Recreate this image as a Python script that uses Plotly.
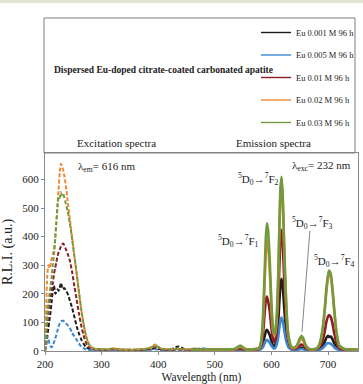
import plotly.graph_objects as go

# ---------------- data ----------------
series_names = ["Eu 0.001 M 96 h", "Eu 0.005 M 96 h", "Eu 0.01 M 96 h",
                "Eu 0.02 M 96 h", "Eu 0.03 M 96 h"]
series_colors = ["#1e1e1e", "#3d87cc", "#8c1d26", "#f08a32", "#72993d"]

# Excitation spectra (lambda_em = 616 nm)
exc_wl = [200, 202, 204, 206, 208, 210, 212, 214, 216, 218,
          220, 222, 224, 226, 228, 230, 232, 234, 236, 238,
          240, 244, 248, 252, 256, 260, 264, 268, 272, 276,
          280, 285, 290, 300, 310, 320, 330, 345, 360, 375,
          385, 395, 405, 420, 435, 450, 465, 480, 500, 520,
          540, 560, 575]
exc_0001 = [0, 20, 50, 80, 110, 140, 175, 215, 228, 200,
            205, 215, 210, 220, 238, 225, 215, 220, 215, 208,
            200, 175, 150, 118, 85, 60, 40, 25, 14, 8,
            5, 4, 3, 3, 2, 4, 3, 2, 2, 3,
            5, 8, 4, 3, 15, 3, 4, 3, 2, 3,
            3, 2, 3]
exc_0005 = [0, 30, 50, 40, 25, 15, 12, 20, 30, 42,
            55, 70, 85, 95, 102, 105, 105, 102, 98, 94,
            90, 80, 62, 50, 38, 25, 15, 9, 5, 3,
            2, 1, 1, 1, 1, 3, 2, 1, 1, 2,
            3, 5, 2, 2, 3, 2, 6, 8, 2, 2,
            2, 2, 2]
exc_001 = [0, 50, 100, 140, 170, 190, 210, 240, 270, 290,
           310, 330, 345, 355, 365, 372, 376, 370, 360, 350,
           340, 315, 275, 225, 178, 130, 88, 55, 30, 16,
           9, 6, 5, 4, 3, 6, 4, 3, 3, 4,
           7, 12, 5, 3, 5, 3, 5, 3, 3, 3,
           4, 3, 4]
exc_002 = [0, 150, 265, 300, 290, 305, 325, 340, 355, 395,
           445, 505, 565, 625, 655, 648, 635, 615, 590, 560,
           525, 460, 395, 330, 270, 205, 145, 95, 55, 30,
           15, 8, 6, 5, 4, 9, 5, 3, 4, 6,
           10, 22, 8, 5, 7, 4, 8, 4, 5, 4,
           6, 5, 6]
exc_003 = [0, 60, 120, 165, 200, 230, 265, 305, 340, 390,
           450, 505, 540, 535, 555, 545, 550, 538, 522, 505,
           490, 445, 390, 330, 270, 205, 145, 95, 55, 30,
           16, 9, 7, 6, 5, 8, 5, 4, 4, 6,
           9, 18, 7, 5, 6, 4, 7, 4, 5, 4,
           5, 5, 5]

# Emission spectra (lambda_exc = 232 nm)
emi_wl = [460, 480, 500, 520, 535, 545, 555, 570, 578, 582,
          585, 588, 590, 592, 594, 597, 600, 603, 606, 609,
          612, 614, 616, 618, 620, 622, 624, 627, 630, 635,
          640, 645, 650, 653, 656, 660, 665, 670, 676, 682,
          686, 690, 694, 697, 700, 702, 705, 708, 711, 715,
          720, 730, 740, 752]
emi_0001 = [2, 3, 2, 3, 3, 6, 3, 3, 5, 10,
            25, 50, 66, 73, 68, 55, 35, 18, 15, 38,
            100, 170, 230, 252, 225, 170, 115, 55, 22, 6,
            4, 5, 9, 11, 9, 5, 3, 2, 3, 4,
            8, 15, 30, 45, 52, 48, 50, 40, 26, 12,
            5, 3, 2, 2]
emi_0005 = [2, 6, 2, 2, 3, 4, 2, 2, 3, 6,
            13, 26, 34, 38, 35, 28, 18, 10, 8, 20,
            48, 80, 106, 116, 104, 80, 55, 28, 12, 4,
            3, 3, 5, 6, 5, 3, 2, 1, 2, 2,
            4, 8, 16, 23, 27, 26, 24, 19, 12, 6,
            3, 2, 1, 1]
emi_001 = [2, 3, 3, 3, 4, 8, 3, 4, 6, 18,
           55, 130, 175, 190, 175, 140, 80, 38, 30, 65,
           170, 290, 390, 424, 375, 280, 190, 90, 38, 10,
           6, 9, 18, 22, 19, 10, 5, 3, 4, 7,
           15, 32, 65, 100, 120, 125, 118, 95, 62, 28,
           9, 4, 3, 3]
emi_002 = [2, 4, 3, 4, 5, 14, 4, 5, 8, 30,
           95, 235, 340, 388, 370, 280, 150, 68, 52, 100,
           245, 410, 550, 585, 525, 395, 270, 125, 50, 13,
           9, 15, 35, 40, 36, 18, 7, 4, 5, 11,
           28, 66, 135, 205, 255, 272, 260, 208, 140, 62,
           16, 5, 4, 3]
emi_003 = [3, 5, 4, 5, 6, 18, 5, 6, 10, 35,
           110, 270, 390, 447, 425, 320, 170, 75, 58, 110,
           260, 430, 570, 610, 545, 410, 280, 130, 55, 15,
           10, 18, 42, 52, 45, 22, 8, 5, 6, 12,
           30, 70, 140, 215, 265, 281, 268, 215, 145, 65,
           18, 6, 5, 4]

exc_series = [exc_0001, exc_0005, exc_001, exc_002, exc_003]
emi_series = [emi_0001, emi_0005, emi_001, emi_002, emi_003]

x_ticks = [200, 300, 400, 500, 600, 700]
y_ticks = [0, 100, 200, 300, 400, 500, 600]

# ---------------- figure ----------------
SERIF = "Liberation Serif, Times New Roman, serif"
fig = go.Figure()

for i, (name, col) in enumerate(zip(series_names, series_colors)):
    fig.add_trace(go.Scatter(
        x=exc_wl, y=exc_series[i], mode="lines", name=name,
        line=dict(color=col, width=2, dash="4px,2px", shape="spline", smoothing=0.5),
        showlegend=False, legendgroup=name, hoverinfo="x+y+name"))

for i, (name, col) in enumerate(zip(series_names, series_colors)):
    fig.add_trace(go.Scatter(
        x=emi_wl, y=emi_series[i], mode="lines", name=name,
        line=dict(color=col, width=2.6, shape="spline", smoothing=0.5),
        showlegend=False, legendgroup=name, hoverinfo="x+y+name"))

# legend entries (thin lines, as in the reference legend)
for name, col in zip(series_names, series_colors):
    fig.add_trace(go.Scatter(
        x=[None], y=[None], mode="lines", name=name,
        line=dict(color=col, width=1.4), showlegend=True, legendgroup=name))

W, H = 363, 384
L, R, T, B = 45, 5, 153, 33
PW, PH = W - L - R, H - T - B


def px(xp):
    return (xp - L) / PW


def py(yp):
    return (H - B - yp) / PH


fig.update_layout(
    width=W, height=H,
    margin=dict(l=L, r=R, t=T, b=B, autoexpand=False),
    paper_bgcolor="white", plot_bgcolor="white",
    font=dict(family=SERIF, size=11, color="#222"),
    legend=dict(x=px(256), y=py(18), xanchor="left", yanchor="top",
                bgcolor="rgba(0,0,0,0)", font=dict(family=SERIF, size=8.5, color="#222"),
                tracegroupgap=3.5, traceorder="grouped", itemwidth=30),
    xaxis=dict(range=[200, 753], tickvals=x_ticks, showgrid=False, zeroline=False,
               showline=True, linecolor="#8a8a8a", linewidth=1, mirror=True,
               ticks="outside", ticklen=3, tickcolor="#8a8a8a",
               tickfont=dict(size=11, color="#222"),
               title=dict(text="Wavelength (nm)", font=dict(size=11.5, color="#222"), standoff=3)),
    yaxis=dict(range=[-1, 693], tickvals=y_ticks, showgrid=False, zeroline=False,
               showline=True, linecolor="#8a8a8a", linewidth=1, mirror=True,
               ticks="outside", ticklen=3, tickcolor="#8a8a8a",
               tickfont=dict(size=11, color="#222"),
               title=dict(text="R.L.I. (a.u.)", font=dict(size=14, color="#222"), standoff=6)),
)

# top box (legend/title panel) and the light strip at the very top
fig.add_shape(type="rect", xref="paper", yref="paper",
              x0=px(44), x1=px(355), y0=py(153), y1=py(18),
              line=dict(color="#7d7d7d", width=1), fillcolor="rgba(0,0,0,0)")
fig.add_shape(type="rect", xref="paper", yref="paper",
              x0=px(0), x1=px(363), y0=py(3), y1=py(0),
              line=dict(width=0), fillcolor="#e3e4d6")

# pointer line for 5D0->7F3
fig.add_shape(type="line", xref="x", yref="y", x0=668, y0=420, x1=654, y1=66,
              line=dict(color="#666", width=0.8))

ann = [
    dict(text="<b>Dispersed Eu-doped citrate-coated carbonated apatite</b>",
         x=px(163), y=py(70), size=9.5),
    dict(text="Excitation spectra", x=px(116), y=py(143), size=11),
    dict(text="Emission spectra", x=px(273), y=py(143), size=11),
    dict(text="λ<sub>em</sub>= 616 nm", x=px(106), y=py(167), size=11),
    dict(text="λ<sub>exc</sub>= 232 nm", x=px(321), y=py(166), size=11),
    dict(text="<sup>5</sup>D<sub>0</sub>→<sup>7</sup>F<sub>2</sub>", x=px(258), y=py(179), size=11),
    dict(text="<sup>5</sup>D<sub>0</sub>→<sup>7</sup>F<sub>1</sub>", x=px(239), y=py(241), size=11),
    dict(text="<sup>5</sup>D<sub>0</sub>→<sup>7</sup>F<sub>3</sub>", x=px(312), y=py(223), size=11),
    dict(text="<sup>5</sup>D<sub>0</sub>→<sup>7</sup>F<sub>4</sub>", x=px(334), y=py(261), size=11),
]
for a in ann:
    fig.add_annotation(text=a["text"], xref="paper", yref="paper", x=a["x"], y=a["y"],
                       xanchor="center", yanchor="middle", showarrow=False,
                       font=dict(family=SERIF, size=a["size"], color="#222"))

fig.write_html("out.html")
